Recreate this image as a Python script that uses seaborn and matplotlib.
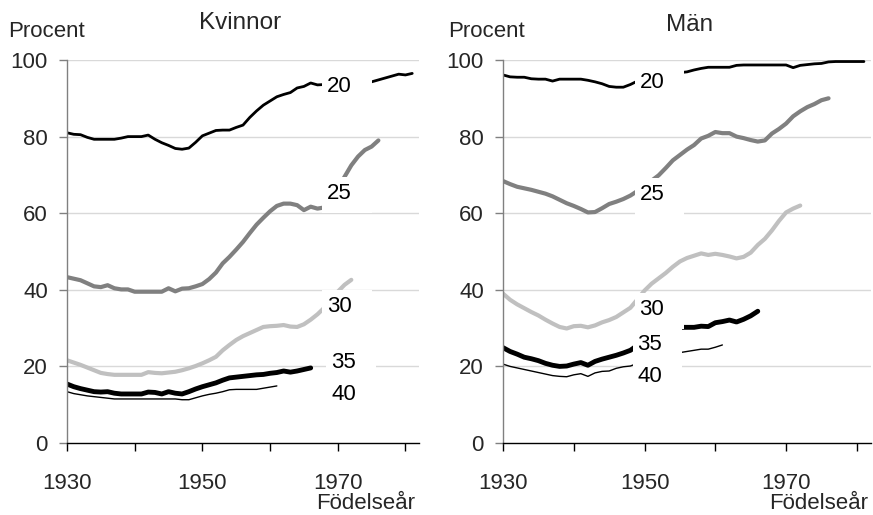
import numpy as np
import pandas as pd
import matplotlib
matplotlib.use("Agg")
import matplotlib.pyplot as plt
from matplotlib.path import Path
import seaborn as sns

# share (%) living with parents by birth year, age groups 20..40
ages = ["20", "25", "30", "35", "40"]

kvinnor_20 = [81.0, 80.6, 80.5, 79.8, 79.3, 79.3, 79.3, 79.3, 79.6, 80.0,
              80.0, 80.0, 80.4, 79.3, 78.4, 77.7, 76.9, 76.7, 77.0, 78.5,
              80.2, 80.9, 81.6, 81.7, 81.7, 82.4, 83.0, 85.0, 86.7, 88.2,
              89.3, 90.4, 91.0, 91.5, 92.7, 93.1, 94.0, 93.5, 93.6, 93.8,
              94.0, 94.1, 94.0, 94.2, 94.1, 94.3, 94.8, 95.3, 95.8, 96.3,
              96.1, 96.5]
kvinnor_25 = [43.3, 42.9, 42.5, 41.7, 40.9, 40.7, 41.2, 40.4, 40.1, 40.1,
              39.5, 39.5, 39.5, 39.5, 39.5, 40.4, 39.6, 40.3, 40.4, 40.9,
              41.5, 42.8, 44.5, 46.9, 48.6, 50.5, 52.5, 54.8, 57.0, 58.8,
              60.5, 61.9, 62.5, 62.5, 62.1, 60.8, 61.7, 61.2, 61.5, 63.5,
              66.5, 69.5, 72.5, 74.8, 76.5, 77.4, 79.0]
kvinnor_30 = [21.6, 21.0, 20.4, 19.7, 19.0, 18.3, 18.0, 17.8, 17.8, 17.8,
              17.8, 17.8, 18.5, 18.3, 18.2, 18.4, 18.6, 19.0, 19.5, 20.1,
              20.8, 21.6, 22.5, 24.2, 25.6, 26.9, 27.9, 28.7, 29.5, 30.3,
              30.5, 30.6, 30.8, 30.4, 30.3, 31.0, 32.2, 33.6, 35.3, 37.3,
              39.5, 41.3, 42.6]
kvinnor_35 = [15.4, 14.7, 14.2, 13.8, 13.4, 13.3, 13.4, 13.0, 12.8, 12.8,
              12.8, 12.8, 13.3, 13.2, 12.8, 13.4, 13.0, 12.8, 13.4, 14.1,
              14.7, 15.2, 15.7, 16.4, 17.0, 17.2, 17.4, 17.6, 17.8, 17.9,
              18.2, 18.4, 18.8, 18.5, 18.8, 19.2, 19.6]
kvinnor_40 = [13.4, 12.9, 12.6, 12.3, 12.1, 11.9, 11.7, 11.5, 11.5, 11.5,
              11.5, 11.5, 11.5, 11.5, 11.5, 11.5, 11.5, 11.3, 11.3, 11.8,
              12.3, 12.7, 13.0, 13.4, 13.9, 14.0, 14.0, 14.0, 14.0, 14.3,
              14.6, 14.9]

man_20 = [96.1, 95.6, 95.5, 95.5, 95.1, 95.0, 95.0, 94.5, 95.0, 95.0,
          95.0, 95.0, 94.7, 94.3, 93.8, 93.1, 92.9, 92.9, 93.6, 94.5,
          95.2, 95.6, 96.0, 96.2, 96.5, 96.7, 96.9, 97.4, 97.8, 98.1,
          98.1, 98.1, 98.1, 98.6, 98.7, 98.7, 98.7, 98.7, 98.7, 98.7,
          98.7, 98.0, 98.6, 98.8, 99.0, 99.1, 99.5, 99.6, 99.6, 99.6,
          99.6, 99.6]
man_25 = [68.4, 67.6, 66.9, 66.5, 66.1, 65.6, 65.1, 64.4, 63.5, 62.6,
          61.9, 61.1, 60.2, 60.3, 61.3, 62.4, 63.0, 63.7, 64.6, 65.8,
          67.0, 68.5, 69.9, 71.8, 73.8, 75.2, 76.6, 77.8, 79.5, 80.2,
          81.2, 80.9, 80.9, 80.0, 79.6, 79.1, 78.7, 79.0, 80.8, 82.0,
          83.4, 85.3, 86.6, 87.7, 88.5, 89.5, 90.0]
man_30 = [39.0, 37.4, 36.2, 35.2, 34.2, 33.3, 32.2, 31.2, 30.3, 29.9,
          30.5, 30.6, 30.2, 30.7, 31.5, 32.1, 32.9, 34.1, 35.3, 37.5,
          39.8, 41.6, 43.0, 44.4, 46.0, 47.4, 48.3, 48.9, 49.5, 49.1,
          49.4, 49.1, 48.7, 48.2, 48.6, 49.7, 51.7, 53.3, 55.5, 58.0,
          60.2, 61.2, 62.0]
man_35 = [24.9, 23.9, 23.2, 22.4, 22.0, 21.5, 20.8, 20.3, 20.0, 20.1,
          20.6, 21.0, 20.3, 21.3, 21.9, 22.4, 22.9, 23.5, 24.2, 25.5,
          26.5, 27.5, 28.3, 29.0, 29.6, 30.2, 30.2, 30.2, 30.5, 30.4,
          31.4, 31.7, 32.1, 31.6, 32.3, 33.2, 34.4]
man_40 = [20.6, 20.0, 19.6, 19.2, 18.8, 18.4, 18.0, 17.6, 17.4, 17.3,
          17.8, 18.1, 17.4, 18.3, 18.7, 18.8, 19.5, 19.9, 20.1, 20.8,
          21.5, 22.1, 22.6, 23.0, 23.4, 23.6, 23.9, 24.2, 24.5, 24.5,
          25.0, 25.6]

FIRST_YEAR = 1930
xtick_years = [1930, 1940, 1950, 1960, 1970, 1980]
xtick_labels = ["1930", "", "1950", "", "1970", ""]
ytick_vals = [0, 20, 40, 60, 80, 100]

# where the age labels sit (birth year, baseline value)
label_pos_kvinnor = {"20": (1968.4, 91.6), "25": (1968.4, 63.7), "30": (1968.4, 34.2),
                     "35": (1969.0, 19.6), "40": (1969.0, 11.1)}
label_pos_man = {"20": (1949.3, 92.7), "25": (1949.3, 63.4), "30": (1949.3, 33.4),
                 "35": (1949.0, 24.3), "40": (1949.0, 16.0)}

styles = {
    "20": dict(color="black", lw=2.0),
    "25": dict(color="#808080", lw=3.0),
    "30": dict(color="#c0c0c0", lw=3.0),
    "35": dict(color="black", lw=3.5),
    "40": dict(color="black", lw=1.0),
}


def to_long(series):
    frames = []
    for age, vals in zip(ages, series):
        years = np.arange(FIRST_YEAR, FIRST_YEAR + len(vals))
        frames.append(pd.DataFrame({"year": years, "value": vals, "age": age}))
    return pd.concat(frames, ignore_index=True)


def label_box(x0, y0, width, height, mutation_size):
    # white label background, wider on the right side (Excel style)
    m = mutation_size
    left, right = x0 - 0.22 * m, x0 + width + 0.9 * m
    bottom, top = y0 - 0.42 * m, y0 + height + 0.27 * m
    verts = [(left, bottom), (right, bottom), (right, top), (left, top), (left, bottom)]
    return Path(verts, closed=True)


sns.set_style("white")
plt.rcParams["font.family"] = ["Liberation Sans", "DejaVu Sans"]
FS = 16

fig = plt.figure(figsize=(8.73, 5.15), dpi=100)
ax_k = fig.add_axes([67 / 873, 72 / 515, 352 / 873, 383 / 515])
ax_m = fig.add_axes([503 / 873, 72 / 515, 368 / 873, 383 / 515])

panels = [
    (ax_k, to_long([kvinnor_20, kvinnor_25, kvinnor_30, kvinnor_35, kvinnor_40]),
     label_pos_kvinnor),
    (ax_m, to_long([man_20, man_25, man_30, man_35, man_40]), label_pos_man),
]

for ax, df, label_pos in panels:
    for age in ages:
        sub = df[df["age"] == age]
        sns.lineplot(data=sub, x="year", y="value", ax=ax, zorder=2,
                     solid_capstyle="round", **styles[age])
    for age in ages:
        x, y = label_pos[age]
        ax.text(x, y, age, color="black", fontsize=FS, ha="left", va="baseline",
                zorder=3, bbox=dict(facecolor="white", edgecolor="none",
                                    boxstyle=label_box))

    ax.set_xlim(1930, 1982)
    ax.set_ylim(0, 100)
    ax.set_xticks(xtick_years)
    ax.set_xticklabels(xtick_labels)
    ax.set_yticks(ytick_vals)
    ax.set_xlabel("")
    ax.set_ylabel("")
    for yv in ytick_vals[1:]:
        ax.axhline(yv, color="#d9d9d9", lw=1.0, zorder=1)
    sns.despine(ax=ax)
    ax.spines["left"].set_color("#808080")
    ax.spines["left"].set_linewidth(1.0)
    ax.spines["bottom"].set_color("black")
    ax.spines["bottom"].set_linewidth(1.0)
    ax.tick_params(axis="x", direction="out", length=5.5, width=1.0, color="black",
                   pad=16, labelsize=FS, bottom=True)
    ax.tick_params(axis="y", direction="out", length=5.8, width=1.0, color="#808080",
                   pad=8, labelsize=FS, left=True)
    ax.set_facecolor("white")
    ax.set_axisbelow(True)

fig.text(8 / 873, 1 - 37 / 515, "Procent", fontsize=FS, ha="left", va="baseline")
fig.text(448 / 873, 1 - 37 / 515, "Procent", fontsize=FS, ha="left", va="baseline")
fig.text(240 / 873, 1 - 29 / 515, "Kvinnor", fontsize=17.5, ha="center", va="baseline")
fig.text(690 / 873, 1 - 31 / 515, "Män", fontsize=17.5, ha="center", va="baseline")
fig.text(415 / 873, 1 - 509 / 515, "Födelseår", fontsize=FS, ha="right", va="baseline")
fig.text(868 / 873, 1 - 509 / 515, "Födelseår", fontsize=FS, ha="right", va="baseline")

fig.savefig("out.png", dpi=100, facecolor="white")
